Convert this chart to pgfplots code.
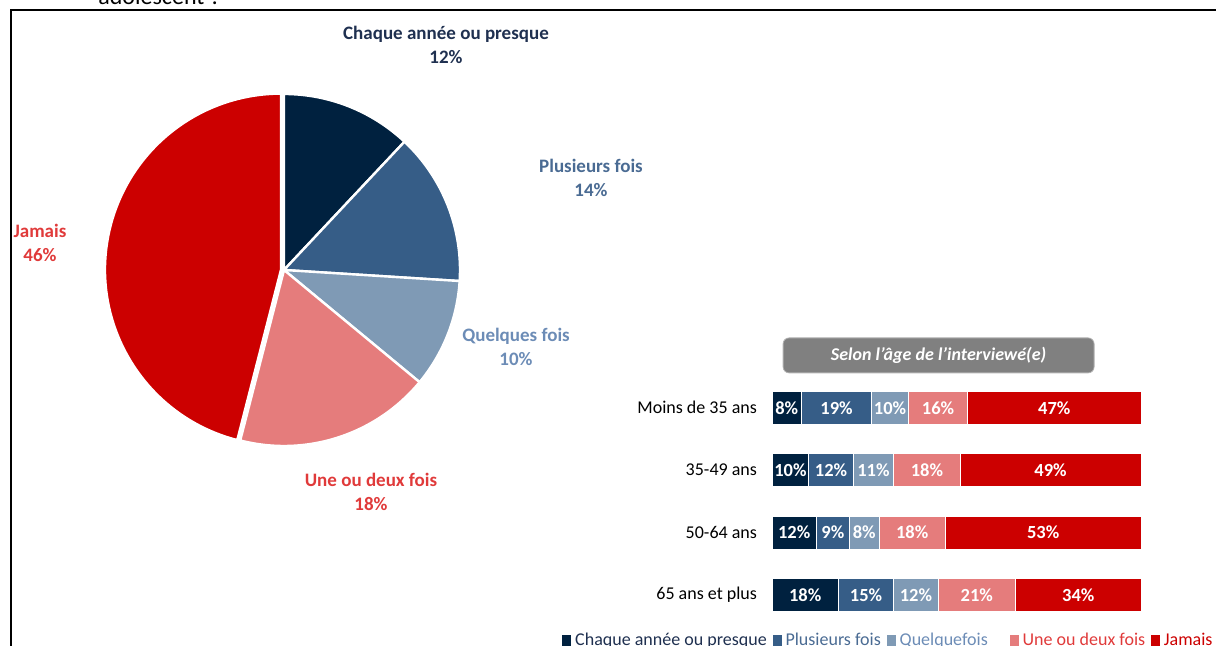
\documentclass[border=0pt]{standalone}
\usepackage{fontspec}
\setmainfont{Carlito}
\usepackage{pgfplots}
\usepackage{pgfplotstable}
\pgfplotsset{compat=1.18}

\definecolor{cA}{HTML}{00213F}
\definecolor{cB}{HTML}{365D87}
\definecolor{cC}{HTML}{7F9AB5}
\definecolor{cD}{HTML}{E57C7C}
\definecolor{cE}{HTML}{CC0000}
\definecolor{tA}{HTML}{1F3050}
\definecolor{tB}{HTML}{4A6B93}
\definecolor{tC}{HTML}{6C8CB6}
\definecolor{tD}{HTML}{E03A3A}

% share by age group (0 = 65+, 3 = under 35)
\pgfplotstableread{
grp c1 c2 c3 c4 c5
0 18 15 12 21 34
1 12 9 8 18 53
2 10 12 11 18 49
3 8 19 10 16 47
}\agetable

\newcommand{\fs}[1]{\fontsize{#1}{#1}\selectfont}
\tikzset{val/.style={text=white, font=\bfseries\fs{9.25}, inner sep=0pt}}
\pgfplotsset{agebox/.style={at={(386pt,9.9pt)}, anchor=south west, scale only axis,
  width=184.5pt, height=124.8pt, xmin=0, xmax=100, ymin=-0.5, ymax=3.5}}

\begin{document}
\begin{tikzpicture}
\path[use as bounding box] (0,0) rectangle (608pt,323pt);
\clip (0,0) rectangle (608pt,323pt);

% frame and cut-off question above
\draw[line width=1pt] (5.6pt,-2pt) -- (5.6pt,317.8pt) -- (612pt,317.8pt);
\node[anchor=base west, inner sep=0pt, font=\fs{12}] at (49pt,320.5pt) {adolescent ?};

% pie: 12, 14, 10, 18, 46 (%), clockwise from the top
\begin{axis}[at={(142pt,188pt)}, anchor=center, scale only axis,
  width=176pt, height=176pt, xmin=-1, xmax=1, ymin=-1, ymax=1,
  hide axis, clip=false]
\fill[cA, draw=white, line width=1.2pt] (axis cs:0,0) -- ++(90:88pt)
  arc[start angle=90, end angle={90-3.6*12}, radius=88pt] -- cycle;
\fill[cB, draw=white, line width=1.2pt] (axis cs:0,0) -- ++({90-3.6*12}:88pt)
  arc[start angle={90-3.6*12}, end angle={90-3.6*26}, radius=88pt] -- cycle;
\fill[cC, draw=white, line width=1.2pt] (axis cs:0,0) -- ++({90-3.6*26}:88pt)
  arc[start angle={90-3.6*26}, end angle={90-3.6*36}, radius=88pt] -- cycle;
\fill[cD, draw=white, line width=1.2pt] (axis cs:0,0) -- ++({90-3.6*36}:88pt)
  arc[start angle={90-3.6*36}, end angle={90-3.6*54}, radius=88pt] -- cycle;
\fill[cE, draw=white, line width=1.2pt, shift={(172.8:1.5pt)}] (axis cs:0,0) -- ++({90-3.6*54}:88pt)
  arc[start angle={90-3.6*54}, end angle={90-3.6*100}, radius=88pt] -- cycle;
\end{axis}

\begin{scope}[every node/.style={align=center, font=\bfseries\fs{9.5}, inner sep=0pt,
  execute at begin node=\setlength{\baselineskip}{12pt}}]
\node[text=tA] at (223pt,300.5pt) {Chaque année ou presque\\12\%};
\node[text=tB] at (295.5pt,234pt) {Plusieurs fois\\14\%};
\node[text=tC] at (258pt,149.75pt) {Quelques fois\\10\%};
\node[text=tD] at (185.5pt,77.25pt) {Une ou deux fois\\18\%};
\node[text=tD] at (20pt,201.75pt) {Jamais\\46\%};
\end{scope}

% age panel title
\node[fill=black!50, draw=black!30, rounded corners=3pt, minimum width=155.5pt,
  minimum height=17.5pt, inner sep=0pt, text=white, font=\bfseries\itshape\fs{9}]
  at (469.3pt,145.3pt) {Selon l’âge de l’interviewé(e)};

\begin{axis}[agebox,
  xbar stacked, bar width=16.5pt,
  hide x axis, axis y line*=left, y axis line style={draw=none},
  ytick={0,1,2,3}, major tick length=0pt,
  yticklabels={65 ans et plus, 50-64 ans, 35-49 ans, Moins de 35 ans},
  yticklabel style={font=\fs{9}, xshift=-4pt},
  clip=false,
  legend columns=-1,
  legend style={draw=none, fill=none, at={(-0.569,-0.057)}, anchor=west,
    font=\fs{9}, inner sep=0pt,
    /tikz/every even column/.append style={column sep=1pt}},
  legend image code/.code={\fill[#1, draw=none] (0pt,-2.6pt) rectangle (4.4pt,2.6pt);},
  ]
\addplot[fill=cA, draw=white, line width=0.5pt] table[x=c1, y=grp] {\agetable};
\addplot[fill=cB, draw=white, line width=0.5pt] table[x=c2, y=grp] {\agetable};
\addplot[fill=cC, draw=white, line width=0.5pt] table[x=c3, y=grp] {\agetable};
\addplot[fill=cD, draw=white, line width=0.5pt] table[x=c4, y=grp] {\agetable};
\addplot[fill=cE, draw=white, line width=0.5pt] table[x=c5, y=grp] {\agetable};
\addlegendentry{\textcolor{tA}{Chaque année ou presque}}
\addlegendentry{\textcolor{tB}{Plusieurs fois}}
\addlegendentry{\textcolor{tC}{Quelquefois}\rule{8pt}{0pt}}
\addlegendentry{\textcolor{tD}{Une ou deux fois}}
\addlegendentry{\textcolor{cE}{Jamais}}
\end{axis}

% segment labels on top, at the middle of each segment
\begin{axis}[agebox, hide axis, clip=false]
\node[val] at (axis cs:4,3) {8\%};
\node[val] at (axis cs:17.5,3) {19\%};
\node[val] at (axis cs:32,3) {10\%};
\node[val] at (axis cs:45,3) {16\%};
\node[val] at (axis cs:76.5,3) {47\%};
\node[val] at (axis cs:5,2) {10\%};
\node[val] at (axis cs:16,2) {12\%};
\node[val] at (axis cs:27.5,2) {11\%};
\node[val] at (axis cs:42,2) {18\%};
\node[val] at (axis cs:75.5,2) {49\%};
\node[val] at (axis cs:6,1) {12\%};
\node[val] at (axis cs:16.5,1) {9\%};
\node[val] at (axis cs:25,1) {8\%};
\node[val] at (axis cs:38,1) {18\%};
\node[val] at (axis cs:73.5,1) {53\%};
\node[val] at (axis cs:9,0) {18\%};
\node[val] at (axis cs:25.5,0) {15\%};
\node[val] at (axis cs:39,0) {12\%};
\node[val] at (axis cs:55.5,0) {21\%};
\node[val] at (axis cs:83,0) {34\%};
\end{axis}
\end{tikzpicture}
\end{document}
